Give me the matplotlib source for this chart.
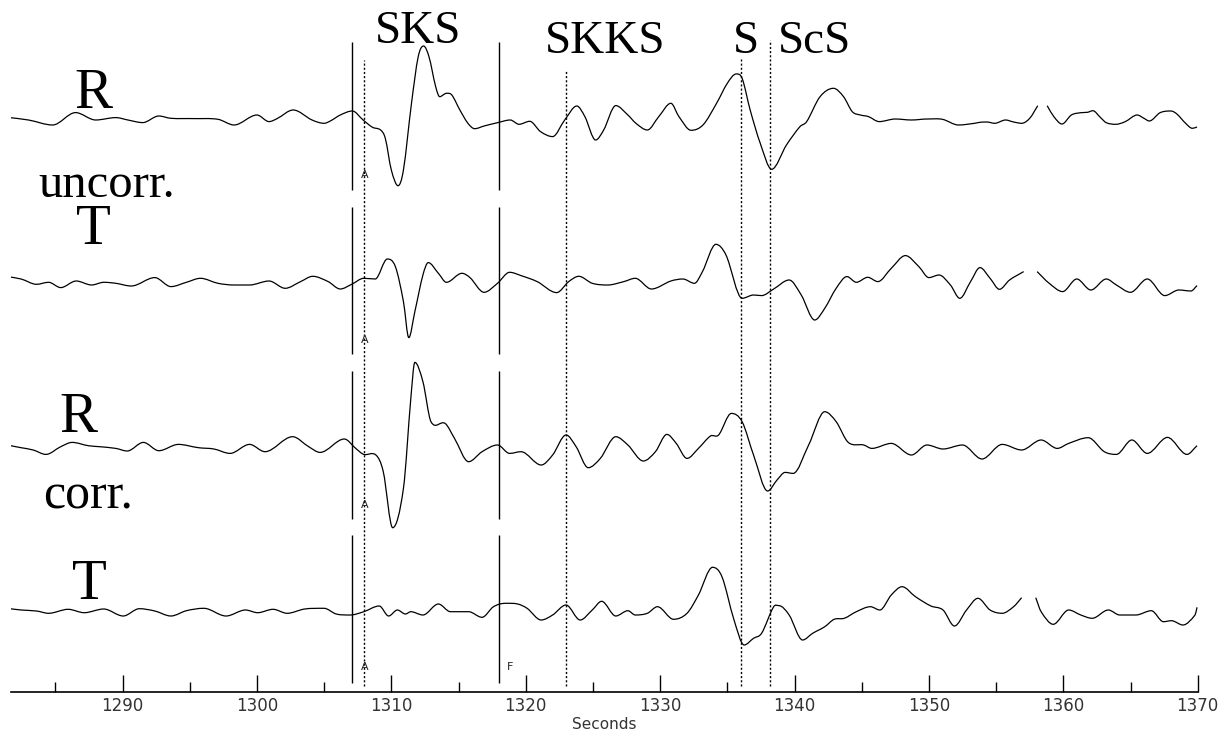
import numpy as np
import matplotlib.pyplot as plt
from matplotlib.path import Path
from matplotlib.patches import PathPatch

nan = np.nan

# R component, uncorrected: time (s), amplitude
r_unc_t = [1281.4, 1283.0, 1284.8, 1286.5, 1288.0, 1289.5, 1290.4, 1291.5, 1292.7, 1293.6,
           1295.3, 1297.1, 1298.3, 1300.0, 1300.9, 1301.5, 1302.7, 1304.1, 1305.0, 1305.5,
           1306.2, 1307.1, 1307.9, 1308.6, 1309.2, 1309.55, 1310.0, 1310.5, 1310.9, 1311.5,
           1312.0, 1312.4, 1312.8, 1313.3, 1313.6, 1314.1, 1314.5, 1315.1, 1315.7, 1316.2,
           1316.9, 1317.9, 1318.85, 1319.5, 1320.3, 1321.1, 1322.0, 1322.9, 1323.8, 1324.4,
           1325.2, 1325.8, 1326.7, 1327.6, 1328.2, 1329.05, 1329.9, 1330.8, 1331.4, 1332.3,
           1333.2, 1334.2, 1335.0, 1335.65, 1336.1, 1336.7, 1337.45, 1338.3, 1339.4, 1340.4,
           1340.9, 1341.9, 1342.9, 1343.65, 1344.3, 1344.9, 1345.5, 1346.3, 1347.5, 1348.7,
           1349.9, 1351.0, 1352.2, 1353.4, 1353.8, 1354.3, 1354.9, 1355.7, 1356.3, 1356.9,
           1357.5, 1358.1, 1358.45, 1358.8, 1359.3, 1359.9, 1360.6, 1361.3, 1361.8, 1362.2,
           1362.75, 1363.2, 1363.9, 1364.6, 1365.5, 1366.0, 1366.4, 1367.2, 1368.0, 1368.45,
           1369.1, 1369.6, 1369.95]
r_unc_a = [2.0, -0.7, -5.7, 6.7, -0.7, 1.7, -0.7, -3.3, 3.3, 1.0,
           0.7, 0.0, -5.7, 4.3, -2.3, 0.7, 9.3, -0.7, -4.0, -1.4,
           4.3, 8.3, -0.7, -8.0, -10.7, -19.0, -50.7, -66.4, -50.7, 16.0,
           62.6, 73.3, 62.6, 32.6, 22.6, 26.0, 24.3, 9.3, -4.0, -9.4,
           -6.7, -3.4, -0.7, -5.0, -2.0, -12.3, -17.3, -0.7, 13.3, 2.7,
           -20.7, -10.7, 13.7, 4.3, -4.0, -10.7, 2.7, 16.0, 2.7, -11.0,
           -5.5, 16.0, 36.0, 45.3, 41.0, 9.3, -24.0, -50.0, -25.7, -7.4,
           -2.4, 22.6, 31.0, 22.6, 7.6, 4.3, 2.7, -2.3, 0.3, -0.7,
           0.3, 0.0, -5.7, -4.0, -3.0, -2.7, -4.0, -0.7, -2.7, -4.0,
           1.0, 13.6, nan, 13.6, 2.6, -4.7, 4.3, 6.6, 7.0, 8.6,
           2.0, -3.4, -5.0, -2.4, 4.3, 1.0, -1.7, 6.6, 8.3, 5.3,
           -4.0, -9.0, -7.7]

# T component, uncorrected
t_unc_t = [1281.4, 1282.45, 1283.6, 1284.5, 1285.4, 1286.55, 1287.7, 1288.6, 1289.5, 1290.65,
           1292.4, 1293.6, 1294.75, 1295.8, 1297.1, 1298.3, 1299.45, 1300.9, 1302.1, 1303.25,
           1304.15, 1305.3, 1306.2, 1307.05, 1307.95, 1308.8, 1309.7, 1310.3, 1310.9, 1311.3,
           1311.75, 1312.35, 1312.75, 1313.5, 1314.1, 1315.25, 1315.85, 1316.9, 1317.9, 1318.8,
           1319.65, 1320.85, 1322.3, 1323.2, 1323.95, 1324.95, 1326.1, 1327.3, 1328.15, 1329.35,
           1330.8, 1331.7, 1332.55, 1333.15, 1334.15, 1334.9, 1336.1, 1336.95, 1337.55, 1338.45,
           1339.6, 1340.5, 1341.5, 1342.25, 1343.1, 1343.9, 1344.6, 1345.45, 1346.2, 1347.2,
           1348.25, 1349.25, 1350.0, 1350.75, 1351.6, 1352.3, 1353.1, 1353.8, 1354.55, 1355.25,
           1356.0, 1357.05, 1357.5, 1358.05, 1358.95, 1359.95, 1361.0, 1362.05, 1363.2, 1363.95,
           1365.0, 1366.25, 1367.55, 1368.6, 1369.5, 1369.95]
t_unc_a = [6.7, 4.3, -1.0, 1.0, -4.3, 2.3, -1.7, 1.0, 0.0, -2.7,
           5.7, -3.3, 1.0, 5.0, 0.0, -1.7, -1.7, 2.3, -5.0, 1.7,
           7.0, 1.7, -5.7, -1.0, 5.0, 4.3, 24.3, 16.7, -18.3, -54.3,
           -28.3, 8.3, 20.7, 10.0, 1.0, 10.0, 5.7, -9.0, 0.0, 11.0,
           7.7, 1.7, -9.3, 1.7, 7.0, 0.0, -1.7, 1.7, 5.0, -5.7,
           2.3, 4.3, 0.0, 11.7, 39.0, 28.3, -15.0, -11.7, -12.3, -5.7,
           3.3, -11.7, -36.7, -25.0, -5.0, 6.7, 1.0, 6.0, 1.7, 15.0,
           27.7, 16.7, 5.7, 8.3, -1.7, -15.0, 1.7, 15.7, 5.0, -6.0,
           3.3, 11.7, nan, 11.7, 0.0, -8.3, 4.3, -6.7, 4.3, -1.7,
           -9.0, 4.3, -12.3, -6.7, -7.7, -2.3]

# R component, corrected
r_cor_t = [1281.4, 1282.45, 1283.35, 1284.3, 1285.4, 1286.25, 1287.45, 1288.3, 1289.5, 1290.35,
           1291.55, 1292.7, 1294.15, 1295.65, 1296.8, 1298.0, 1299.45, 1300.6, 1302.65, 1303.85,
           1304.7, 1306.5, 1307.35, 1307.95, 1308.85, 1309.4, 1310.1, 1310.9, 1311.45, 1311.75,
           1312.35, 1312.95, 1314.0, 1314.7, 1315.75, 1316.75, 1317.9, 1318.8, 1319.65, 1321.15,
           1322.0, 1323.0, 1323.75, 1324.65, 1325.55, 1326.7, 1327.6, 1328.75, 1329.65, 1330.5,
           1331.2, 1332.0, 1332.85, 1333.75, 1334.35, 1335.3, 1336.1, 1336.95, 1338.0, 1338.7,
           1339.3, 1339.9, 1341.05, 1342.25, 1343.1, 1344.0, 1345.15, 1345.75, 1347.2, 1348.7,
           1349.85, 1351.05, 1352.5, 1353.95, 1355.45, 1356.9, 1358.35, 1359.55, 1360.4, 1361.85,
           1363.05, 1363.95, 1365.1, 1366.25, 1367.75, 1369.2, 1369.95]
r_cor_a = [2.7, 0.0, -2.3, -6.7, 1.0, 5.3, 2.0, 1.0, -0.7, -3.3,
           5.3, -3.0, 3.3, 0.0, -1.3, -5.7, 3.3, -4.0, 11.0, 1.0,
           -4.7, 8.7, -0.7, -6.7, -7.3, -24.0, -80.0, -40.7, 49.3, 85.3,
           66.0, 26.0, 24.3, 9.3, -14.0, -4.0, 2.7, -5.7, -4.0, -17.3,
           -7.3, 12.7, 1.0, -20.0, -10.7, 11.0, 2.7, -13.3, -4.0, 13.3,
           4.3, -10.7, -0.7, 11.7, 12.7, 34.3, 26.0, -7.3, -43.3, -32.3,
           -24.7, -25.7, 2.7, 36.0, 26.0, 5.3, 2.7, -0.7, 4.3, -7.3,
           2.7, -1.3, 2.7, -11.3, 3.3, -2.3, 7.7, -0.7, 4.3, 10.0,
           -4.0, -6.7, 7.7, -5.7, 10.3, -6.7, 2.0]

# T component, corrected
t_cor_t = [1281.4, 1282.45, 1283.6, 1284.5, 1285.95, 1287.15, 1288.6, 1290.05, 1291.25, 1292.4,
           1293.6, 1294.75, 1296.05, 1297.7, 1299.15, 1300.05, 1301.2, 1302.25, 1303.55, 1305.0,
           1305.9, 1306.95, 1307.95, 1309.1, 1309.8, 1310.45, 1311.05, 1311.45, 1312.35, 1313.5,
           1314.4, 1315.75, 1316.75, 1317.6, 1318.5, 1319.4, 1320.1, 1321.15, 1322.0, 1323.0,
           1324.05, 1324.95, 1325.65, 1326.7, 1327.6, 1328.15, 1329.05, 1329.8, 1331.0, 1332.0,
           1332.85, 1333.9, 1334.6, 1335.5, 1336.25, 1336.95, 1337.55, 1338.45, 1338.85, 1339.6,
           1340.6, 1341.35, 1342.25, 1342.95, 1343.7, 1344.6, 1345.65, 1346.35, 1347.2, 1348.0,
           1349.0, 1350.15, 1351.05, 1351.9, 1352.8, 1353.65, 1354.55, 1355.45, 1356.3, 1356.9,
           1357.4, 1357.95, 1358.35, 1359.25, 1360.4, 1361.3, 1362.15, 1363.35, 1364.2, 1365.4,
           1366.55, 1367.45, 1368.05, 1368.9, 1369.8, 1369.95]
t_cor_a = [1.7, 0.0, -1.0, -3.3, 0.7, -2.7, 1.0, -6.0, 1.3, -1.0,
           -6.0, -0.7, 1.7, -6.0, 0.0, -2.7, 0.7, -3.3, 1.0, 1.7,
           -4.0, -5.0, -1.7, 4.0, -6.0, 0.0, -4.0, -1.7, -5.0, 6.0,
           -1.7, -1.7, -7.3, 3.3, 6.7, 6.0, 1.7, -10.0, -5.0, 5.0,
           -10.0, 0.0, 8.7, -6.0, -0.7, -5.0, -3.3, 3.3, -9.3, -3.3,
           15.0, 42.7, 33.3, -10.0, -35.0, -28.3, -23.3, 3.3, 4.3, -5.0,
           -30.0, -23.3, -16.7, -9.3, -8.3, -1.7, 3.3, 0.0, 15.0, 23.3,
           13.3, 4.0, 0.0, -16.0, 0.0, 11.7, 0.0, -3.3, 3.3, 12.3,
           nan, 12.3, -1.7, -14.3, 0.0, -5.0, -8.3, 0.0, -5.0, -5.0,
           -0.7, -11.7, -10.7, -15.0, -5.0, 2.7]

# analysis window and phase picks (s)
window = [1307.07, 1318.03]
pick_a = 1308.0
pick_f = 1318.85
phase_names = ["SKKS", "S", "ScS"]
phase_times = [1323.0, 1336.0, 1338.15]

traces = [(r_unc_t, r_unc_a), (t_unc_t, t_unc_a), (r_cor_t, r_cor_a), (t_cor_t, t_cor_a)]
baselines = [572.4, 408.4, 244.0, 81.7]
bar_spans = [(501.7, 649.7), (337.7, 484.7), (172.7, 320.7), (8.7, 156.7)]


def trace_path(t, y):
    """Smooth Bezier path through the samples, broken at NaN gaps."""
    t = np.asarray(t, float)
    y = np.asarray(y, float)
    verts, codes = [], []
    good = ~np.isnan(y)
    edges = np.flatnonzero(np.diff(np.r_[0, good.astype(int), 0]))
    for s, e in zip(edges[::2], edges[1::2]):
        ts, ys = t[s:e], y[s:e]
        n = len(ts)
        m = np.zeros(n)
        for i in range(n):
            if i == 0:
                m[i] = (ys[1] - ys[0]) / (ts[1] - ts[0])
            elif i == n - 1:
                m[i] = (ys[-1] - ys[-2]) / (ts[-1] - ts[-2])
            elif (ys[i] - ys[i - 1]) * (ys[i + 1] - ys[i]) > 0:
                m[i] = (ys[i + 1] - ys[i - 1]) / (ts[i + 1] - ts[i - 1])
        verts.append((ts[0], ys[0]))
        codes.append(Path.MOVETO)
        for i in range(n - 1):
            h = ts[i + 1] - ts[i]
            verts += [(ts[i] + h / 3, ys[i] + m[i] * h / 3),
                      (ts[i + 1] - h / 3, ys[i + 1] - m[i + 1] * h / 3),
                      (ts[i + 1], ys[i + 1])]
            codes += [Path.CURVE4] * 3
    return Path(verts, codes)


fig = plt.figure(figsize=(12.28, 7.36), dpi=100)
ax = fig.add_axes([11 / 1228, 44.3 / 736, 1186.7 / 1228, 691.7 / 736])
ax.set_xlim(1281.7, 1370)
ax.set_ylim(0, 691.7)

for (t, a), base in zip(traces, baselines):
    p = trace_path(t, base + np.array(a))
    ax.add_patch(PathPatch(p, fill=False, ec="black", lw=0.9))

# window bars, broken between traces
for y0, y1 in bar_spans:
    ax.vlines(window, y0, y1, color="black", lw=1.0)

dots = (0, (1.5, 1.5))
ax.vlines(pick_a, 6, 631.7, color="black", lw=1.0, linestyles=dots)
tops = [621.7, 632.7, 651.7]
for tp, top in zip(phase_times, tops):
    ax.vlines(tp, 6, top, color="black", lw=1.0, linestyles=dots)

for yv in [516.7, 351.7, 186.7, 24.7]:
    ax.text(pick_a, yv, "A", ha="center", va="center", fontsize=8, color="#222222")
ax.text(pick_f, 24.7, "F", ha="center", va="center", fontsize=8, color="#222222")

serif = "Liberation Serif"
ax.text(1312.0, 649.0, "SKS", ha="center", va="baseline", fontsize=34, family=serif)
ax.text(1325.9, 639.0, "SKKS", ha="center", va="baseline", fontsize=34, family=serif)
ax.text(1336.4, 639.0, "S", ha="center", va="baseline", fontsize=34, family=serif)
ax.text(1341.5, 639.0, "ScS", ha="center", va="baseline", fontsize=34, family=serif)

big, mid = 41, 35
ax.text(1287.8, 584.0, "R", ha="center", va="baseline", fontsize=big, family=serif)
ax.text(1288.8, 495.0, "uncorr.", ha="center", va="baseline", fontsize=mid, family=serif)
ax.text(1287.8, 448.0, "T", ha="center", va="baseline", fontsize=big, family=serif)
ax.text(1286.7, 259.5, "R", ha="center", va="baseline", fontsize=big, family=serif)
ax.text(1287.4, 183.0, "corr.", ha="center", va="baseline", fontsize=mid + 1, family=serif)
ax.text(1287.5, 92.5, "T", ha="center", va="baseline", fontsize=big, family=serif)

for side in ["top", "left", "right"]:
    ax.spines[side].set_visible(False)
ax.spines["bottom"].set_linewidth(1.2)
ax.set_yticks([])
ax.set_xticks(np.arange(1290, 1371, 10))
ax.set_xticks(np.arange(1285, 1370, 10), minor=True)
ax.tick_params(axis="x", which="major", direction="in", length=12, width=1, pad=4,
               labelsize=12, labelcolor="#333333")
ax.tick_params(axis="x", which="minor", direction="in", length=7, width=1)
ax.set_xlabel("Seconds", fontsize=11, color="#333333", labelpad=1)
ax.patch.set_visible(False)

fig.savefig("out.png", dpi=100)
